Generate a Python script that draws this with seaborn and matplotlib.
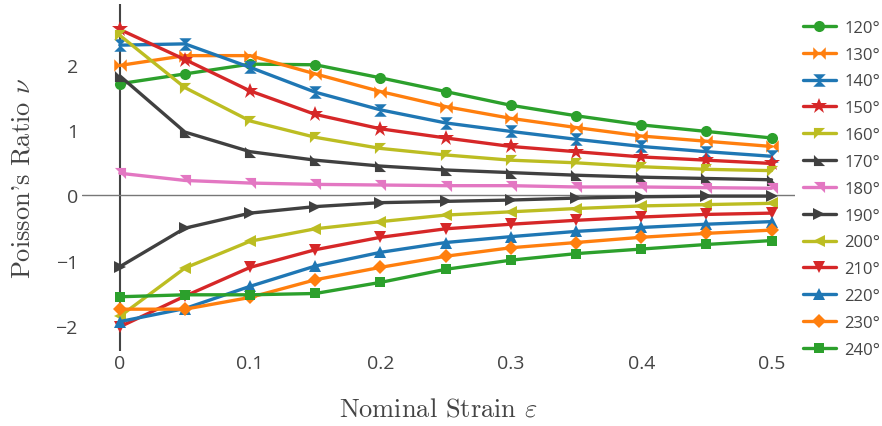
import matplotlib
matplotlib.use("Agg")
import matplotlib.pyplot as plt
import seaborn as sns

# nominal strain samples
strain = [0.0, 0.05, 0.1, 0.15, 0.2, 0.25, 0.3, 0.35, 0.4, 0.45, 0.5]

angles = ["120°", "130°", "140°", "150°", "160°", "170°", "180°",
          "190°", "200°", "210°", "220°", "230°", "240°"]

# Poisson's ratio, one list per angle
nu_120 = [1.71, 1.86, 2.01, 2.00, 1.80, 1.59, 1.38, 1.22, 1.08, 0.98, 0.88]
nu_130 = [1.99, 2.14, 2.14, 1.86, 1.59, 1.36, 1.18, 1.04, 0.91, 0.83, 0.75]
nu_140 = [2.30, 2.32, 1.96, 1.58, 1.31, 1.11, 0.98, 0.86, 0.75, 0.67, 0.60]
nu_150 = [2.54, 2.08, 1.60, 1.24, 1.02, 0.88, 0.75, 0.67, 0.59, 0.54, 0.49]
nu_160 = [2.45, 1.65, 1.14, 0.89, 0.72, 0.62, 0.54, 0.50, 0.44, 0.40, 0.38]
nu_170 = [1.83, 0.97, 0.67, 0.54, 0.45, 0.39, 0.35, 0.31, 0.28, 0.26, 0.24]
nu_180 = [0.34, 0.23, 0.19, 0.17, 0.16, 0.15, 0.15, 0.13, 0.13, 0.12, 0.11]
nu_190 = [-1.09, -0.50, -0.27, -0.17, -0.11, -0.09, -0.07, -0.04, -0.02, -0.01, -0.01]
nu_200 = [-1.85, -1.11, -0.70, -0.51, -0.40, -0.30, -0.25, -0.20, -0.16, -0.14, -0.12]
nu_210 = [-2.01, -1.54, -1.10, -0.83, -0.64, -0.51, -0.44, -0.38, -0.33, -0.29, -0.27]
nu_220 = [-1.93, -1.73, -1.39, -1.08, -0.87, -0.72, -0.63, -0.55, -0.49, -0.44, -0.40]
nu_230 = [-1.74, -1.74, -1.56, -1.29, -1.10, -0.93, -0.80, -0.72, -0.64, -0.58, -0.53]
nu_240 = [-1.55, -1.52, -1.52, -1.50, -1.33, -1.13, -0.99, -0.89, -0.82, -0.75, -0.69]

series = [nu_120, nu_130, nu_140, nu_150, nu_160, nu_170, nu_180,
          nu_190, nu_200, nu_210, nu_220, nu_230, nu_240]

green, orange, blue, red = "#2ca02c", "#ff7f0e", "#1f77b4", "#d62728"
olive, dark, pink = "#bcbd22", "#404040", "#e377c2"
colors = [green, orange, blue, red, olive, dark, pink,
          dark, olive, red, blue, orange, green]

# plotly-like marker shapes
bowtie = [(-1, -1), (1, 1), (1, -1), (-1, 1), (-1, -1)]
hourglass = [(-1, 1), (1, 1), (-1, -1), (1, -1), (-1, 1)]
tri_nw = [(-1, 1), (1, 1), (-1, -1), (-1, 1)]
tri_sw = [(-1, 1), (-1, -1), (1, -1), (-1, 1)]
tri_ne = [(-1, 1), (1, 1), (1, -1), (-1, 1)]
markers = ["o", bowtie, hourglass, "*", tri_nw, tri_sw, tri_ne,
           ">", "<", "v", "^", "D", "s"]
msizes = [8, 9, 9, 12, 8, 8, 8, 9, 9, 9, 9, 7, 7.5]

sns.set_theme(style="white")
plt.rcParams["font.family"] = ["Open Sans", "DejaVu Sans"]
plt.rcParams["mathtext.fontset"] = "cm"

fig = plt.figure(figsize=(8.82, 4.27), dpi=100)
ax = fig.add_axes([82 / 882, 1 - 352 / 427, (795 - 82) / 882, (352 - 5) / 427])

for lab, vals, col, mk, ms in zip(angles, series, colors, markers, msizes):
    sns.lineplot(x=strain, y=vals, ax=ax, color=col, marker=mk, markersize=ms,
                 markeredgewidth=0, markeredgecolor=col, linewidth=2.4,
                 label=lab, legend=False, sort=False, estimator=None)

ax.axvline(0, color="#444444", lw=1.5, zorder=0)
ax.axhline(0, color="#777777", lw=1.0, zorder=0)

ax.set_xlim(-0.029, 0.518)
ax.set_ylim(-2.38, 2.93)
ax.set_xticks([0, 0.1, 0.2, 0.3, 0.4, 0.5])
ax.set_xticklabels(["0", "0.1", "0.2", "0.3", "0.4", "0.5"])
ax.set_yticks([-2, -1, 0, 1, 2])
ax.set_yticklabels(["\u22122", "\u22121", "0", "1", "2"])
ax.tick_params(axis="both", length=0, labelsize=14, labelcolor="#444444")
ax.tick_params(axis="y", pad=3)
ax.tick_params(axis="x", pad=2)
for s in ax.spines.values():
    s.set_visible(False)
ax.grid(False)

# serif labels in the TeX look
ax.set_xlabel(r"Nominal Strain $\varepsilon$", family="cmr10", fontsize=19,
              color="#444444", labelpad=18)
ax.set_ylabel(r"Poisson's Ratio $\nu$", family="cmr10", fontsize=19,
              color="#444444", labelpad=15)

handles, labels = ax.get_legend_handles_labels()
fig.legend(handles, labels, loc="upper left", bbox_to_anchor=(796 / 882, 1 - 14 / 427),
           frameon=False, fontsize=12, labelcolor="#444444", handlelength=2.0,
           handletextpad=0.5, labelspacing=0.65, borderaxespad=0)

fig.savefig("out.png", dpi=100)
